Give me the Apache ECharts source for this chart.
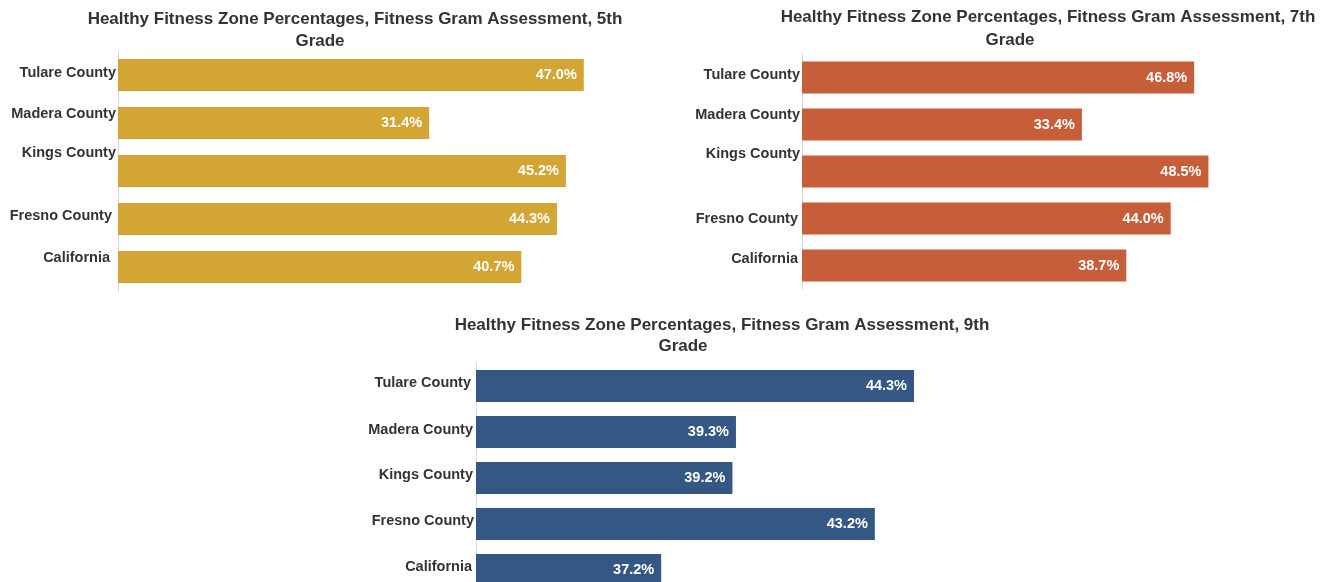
<!DOCTYPE html>
<html lang="en" style="height: 100%">
<head>
  <meta charset="utf-8">
</head>
<body style="height: 100%; margin: 0; background: #fff; overflow: hidden">
  <div id="container" style="width: 1327px; height: 600px"></div>

  <script type="text/javascript" src="https://cdn.jsdelivr.net/npm/echarts@6/dist/echarts.min.js"></script>

  <script type="text/javascript">
    // data
    var categories = ['Tulare County', 'Madera County', 'Kings County', 'Fresno County', 'California'];
    var grade5 = [47.0, 31.4, 45.2, 44.3, 40.7];
    var grade7 = [46.8, 33.4, 48.5, 44.0, 38.7];
    var grade9 = [44.3, 39.3, 39.2, 43.2, 37.2];
    var titleLine1 = [
      'Healthy Fitness Zone Percentages, Fitness Gram Assessment, 5th',
      'Healthy Fitness Zone Percentages, Fitness Gram Assessment, 7th',
      'Healthy Fitness Zone Percentages, Fitness Gram Assessment, 9th'
    ];
    var titleLine2 = 'Grade';

    var dom = document.getElementById('container');
    var myChart = echarts.init(dom, null, { renderer: 'canvas' });

    var font = 'Liberation Sans, Arial, sans-serif';

    // layout of the three panels (the 9th grade plot runs past the bottom edge)
    var panels = [
      { values: grade5, color: '#D3A534', min: 0, max: 50, left: 118, top: 51, width: 495.5, height: 240,
        t1: [350, 6], t2: [315, 28],
        // label shifts [up, right padding]
        shift: [[2.5, 0], [9, 0], [18, 0], [3, 4], [9, 6]] },
      { values: grade7, color: '#C65E3A', min: 0, max: 50, left: 802, top: 54, width: 419, height: 235,
        t1: [1043, 4], t2: [1005, 27],
        shift: [[2.5, 0], [9.5, 0], [17.5, 0], [0, 2], [6.5, 2]] },
      { values: grade9, color: '#355784', min: 32, max: 50, left: 476, top: 363, width: 641, height: 230,
        t1: [717, 311.5], t2: [678, 332.5],
        shift: [[3, 3], [2, 1], [3, 1], [3, 0], [3, 2]] }
    ];

    var titles = [], grids = [], xAxes = [], yAxes = [], series = [];
    panels.forEach(function (p, i) {
      var ts = { fontFamily: font, fontSize: 17, fontWeight: 'bold', color: '#333' };
      titles.push({ text: titleLine1[i], left: p.t1[0], top: p.t1[1], textAlign: 'center', textStyle: ts });
      titles.push({ text: titleLine2, left: p.t2[0], top: p.t2[1], textAlign: 'center', textStyle: ts });
      grids.push({ left: p.left, top: p.top, width: p.width, height: p.height, containLabel: false });
      xAxes.push({ type: 'value', gridIndex: i, min: p.min, max: p.max, show: false });
      var rich = {};
      p.shift.forEach(function (s, k) {
        rich['k' + k] = {
          fontFamily: font, fontSize: 14.5, fontWeight: 'bold', color: '#333',
          padding: [0, s[1], s[0] * 2, 0]
        };
      });
      yAxes.push({
        type: 'category', gridIndex: i, data: categories, inverse: true,
        axisLine: { show: true, lineStyle: { color: '#d9d9d9', width: 1 } },
        axisTick: { show: false },
        splitLine: { show: false },
        axisLabel: {
          margin: 2,
          formatter: function (v, idx) { return '{k' + idx + '|' + v + '}'; },
          rich: rich
        }
      });
      series.push({
        type: 'bar', xAxisIndex: i, yAxisIndex: i,
        data: p.values, barWidth: 32,
        itemStyle: { color: p.color },
        label: {
          show: true, position: 'insideRight', distance: 7,
          color: '#fff', fontFamily: font, fontSize: 14.5, fontWeight: 'bold',
          formatter: function (d) { return d.value.toFixed(1) + '%'; }
        },
        silent: true
      });
    });

    var option = {
      animation: false,
      title: titles,
      grid: grids,
      xAxis: xAxes,
      yAxis: yAxes,
      series: series
    };

    myChart.setOption(option);
    window.addEventListener('resize', myChart.resize);
  </script>
</body>
</html>
